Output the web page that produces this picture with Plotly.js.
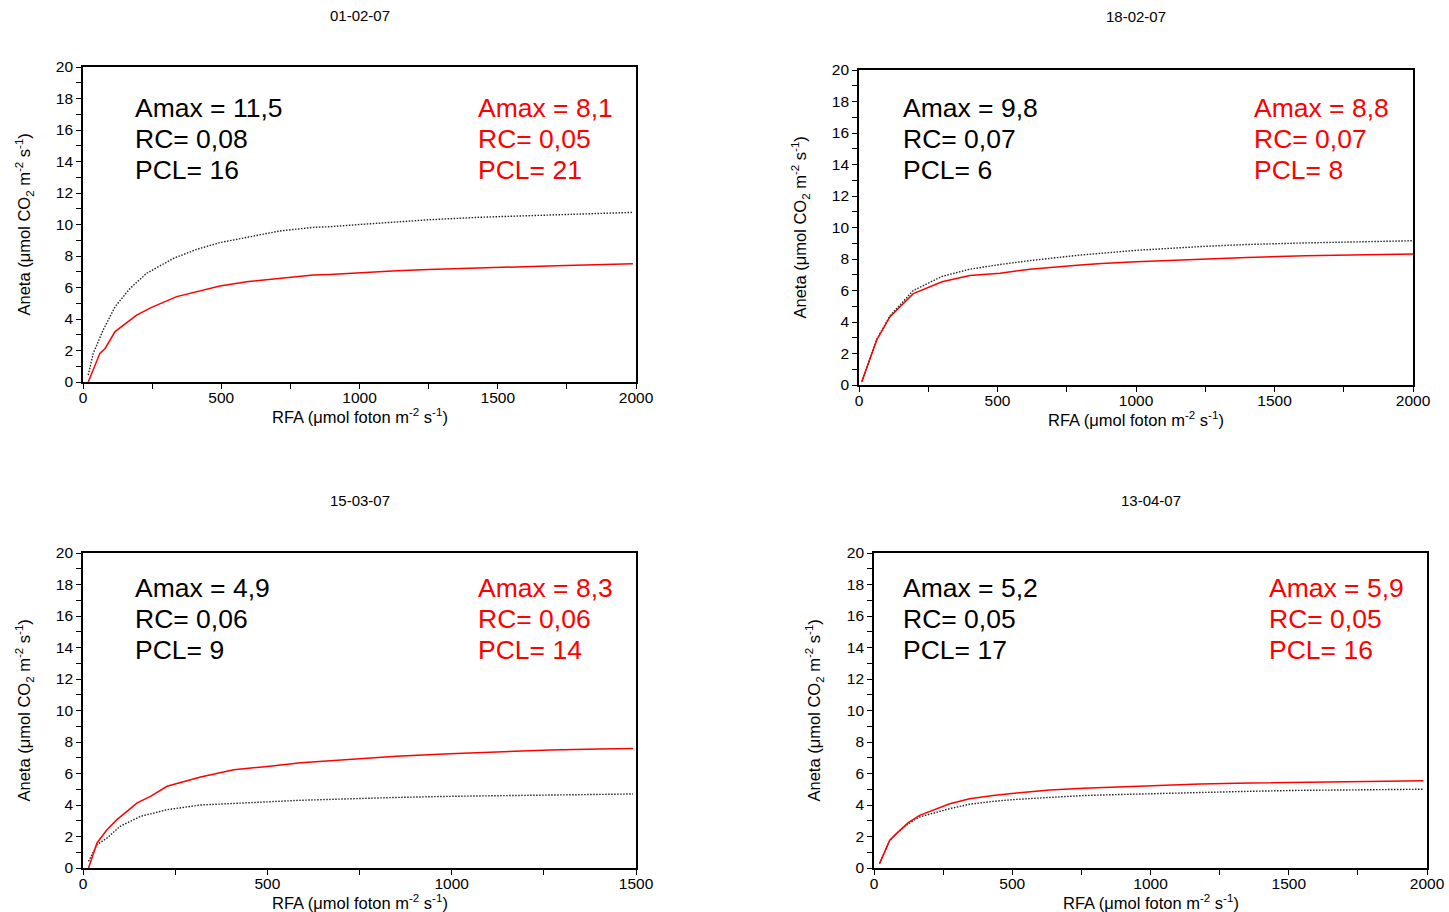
<!DOCTYPE html>
<html>
<head>
<meta charset="utf-8">
<script src="https://cdn.plot.ly/plotly-3.0.1.min.js"></script>
<style>html,body{margin:0;padding:0;background:#fff;}#chart{width:1449px;height:912px;}</style>
</head>
<body>
<div id="chart"></div>
<script>
// ---------- Data ----------
const panelTitles = ["01-02-07", "18-02-07", "15-03-07", "13-04-07"];
const xMax = [2000, 2000, 1500, 2000];

// Panel 1 (01-02-07)
const p1BlackX = [19, 37, 73, 116, 170, 230, 327, 411, 495, 592, 712, 833, 893, 1000, 1135, 1250, 1436, 1600, 1713, 1850, 1989];
const p1BlackY = [0.44, 1.82, 3.3, 4.78, 5.94, 6.9, 7.85, 8.42, 8.85, 9.2, 9.59, 9.82, 9.86, 10.0, 10.18, 10.3, 10.46, 10.55, 10.62, 10.7, 10.77];
const p1RedX = [19, 61, 80, 116, 194, 248, 339, 411, 495, 592, 712, 833, 893, 1000, 1135, 1250, 1436, 1600, 1713, 1850, 1989];
const p1RedY = [0.0, 1.82, 2.13, 3.2, 4.25, 4.74, 5.42, 5.73, 6.1, 6.37, 6.58, 6.79, 6.83, 6.95, 7.07, 7.15, 7.26, 7.33, 7.38, 7.45, 7.51];

// Panel 2 (18-02-07)
const p2BlackX = [10, 64, 112, 196, 300, 400, 509, 617, 798, 876, 1000, 1243, 1400, 1610, 1800, 2000];
const p2BlackY = [0.2, 2.9, 4.4, 6.0, 6.9, 7.35, 7.65, 7.9, 8.25, 8.37, 8.55, 8.8, 8.92, 9.02, 9.1, 9.16];
const p2RedX = [10, 64, 112, 196, 300, 400, 509, 617, 798, 876, 1000, 1243, 1400, 1610, 1800, 2000];
const p2RedY = [0.2, 2.86, 4.34, 5.8, 6.55, 6.95, 7.1, 7.35, 7.62, 7.72, 7.82, 8.0, 8.1, 8.2, 8.27, 8.32];

// Panel 3 (15-03-07)
const p3BlackX = [15, 38, 65, 101, 156, 228, 319, 409, 500, 591, 724, 850, 995, 1130, 1267, 1400, 1492];
const p3BlackY = [0.42, 1.48, 1.9, 2.65, 3.28, 3.7, 4.0, 4.12, 4.2, 4.3, 4.4, 4.48, 4.55, 4.6, 4.65, 4.68, 4.7];
const p3RedX = [15, 38, 65, 92, 147, 183, 228, 319, 409, 453, 500, 591, 724, 850, 995, 1130, 1267, 1400, 1492];
const p3RedY = [0.0, 1.59, 2.43, 3.07, 4.13, 4.55, 5.19, 5.78, 6.24, 6.32, 6.45, 6.68, 6.92, 7.1, 7.26, 7.38, 7.49, 7.55, 7.58];

// Panel 4 (13-04-07)
const p4BlackX = [20, 57, 81, 123, 165, 226, 274, 346, 431, 516, 636, 757, 878, 999, 1179, 1360, 1541, 1760, 1987];
const p4BlackY = [0.28, 1.76, 2.18, 2.81, 3.24, 3.56, 3.77, 4.05, 4.23, 4.36, 4.5, 4.6, 4.66, 4.72, 4.8, 4.87, 4.93, 4.97, 5.0];
const p4RedX = [20, 57, 81, 123, 165, 226, 274, 346, 431, 516, 636, 757, 878, 999, 1179, 1360, 1541, 1760, 1987];
const p4RedY = [0.28, 1.76, 2.18, 2.86, 3.34, 3.77, 4.08, 4.4, 4.61, 4.76, 4.95, 5.07, 5.15, 5.22, 5.33, 5.39, 5.44, 5.5, 5.54];

// Parameter text blocks
const blackLabels = [
  ["Amax = 11,5", "RC= 0,08", "PCL= 16"],
  ["Amax = 9,8", "RC= 0,07", "PCL= 6"],
  ["Amax = 4,9", "RC= 0,06", "PCL= 9"],
  ["Amax = 5,2", "RC= 0,05", "PCL= 17"]
];
const redLabels = [
  ["Amax = 8,1", "RC= 0,05", "PCL= 21"],
  ["Amax = 8,8", "RC= 0,07", "PCL= 8"],
  ["Amax = 8,3", "RC= 0,06", "PCL= 14"],
  ["Amax = 5,9", "RC= 0,05", "PCL= 16"]
];
const xTitle = "RFA (\u03bcmol foton m<sup>-2</sup> s<sup>-1</sup>)";
const yTitle = "Aneta (\u03bcmol CO<sub>2</sub> m<sup>-2</sup> s<sup>-1</sup>)";

// ---------- Layout (pixel geometry) ----------
const W = 1449, H = 912;
const boxes = [ // [left, right, top, bottom] in px
  [83, 636, 67, 382],
  [859, 1413, 70, 385],
  [83, 636, 553, 868],
  [874, 1427, 553, 868]
];
const titlePos = [[360, 15], [1136, 17], [360, 500], [1151, 500]];
const blackTextPos = [[134, 108], [902, 108], [134, 588], [902, 588]];
const redTextPos = [[477, 108], [1253, 108], [477, 588], [1268, 588]];
const yTitleX = [24, 800, 24, 814];
const lineGap = 31;

const FONT = "Liberation Sans, Arial, sans-serif";
const px2x = p => p / W;
const px2y = p => 1 - p / H;

const series = [
  [p1BlackX, p1BlackY, p1RedX, p1RedY],
  [p2BlackX, p2BlackY, p2RedX, p2RedY],
  [p3BlackX, p3BlackY, p3RedX, p3RedY],
  [p4BlackX, p4BlackY, p4RedX, p4RedY]
];

const data = [];
const layout = {
  width: W, height: H,
  margin: {l: 0, r: 0, t: 0, b: 0},
  paper_bgcolor: "#fff", plot_bgcolor: "#fff",
  showlegend: false,
  hovermode: false,
  dragmode: false,
  font: {family: FONT, color: "#000", size: 15},
  annotations: []
};

series.forEach((s, i) => {
  const n = i + 1;
  const xa = n === 1 ? "x" : "x" + n;
  const ya = n === 1 ? "y" : "y" + n;
  data.push({x: s[0], y: s[1], xaxis: xa, yaxis: ya, type: "scatter", mode: "lines",
    line: {color: "#222", width: 1.4, dash: "1.5px,1.5px"}, hoverinfo: "skip"});
  data.push({x: s[2], y: s[3], xaxis: xa, yaxis: ya, type: "scatter", mode: "lines",
    line: {color: "#ff0000", width: 1.5}, hoverinfo: "skip"});
  const b = boxes[i];
  layout["xaxis" + (n === 1 ? "" : n)] = {
    domain: [px2x(b[0]), px2x(b[1])], anchor: ya,
    range: [0, xMax[i]], tick0: 0, dtick: 500,
    showgrid: false, zeroline: false, showline: true, mirror: true,
    linecolor: "#000", linewidth: 1.6,
    ticks: "outside", ticklen: 5, tickwidth: 1, tickcolor: "#000",
    ticklabelstandoff: -4,
    tickfont: {size: 15.5, family: FONT, color: "#000"},
    minor: {dtick: 250, tick0: 0, ticks: "outside", ticklen: 5, tickwidth: 1, tickcolor: "#000", showgrid: false},
    fixedrange: true
  };
  layout["yaxis" + (n === 1 ? "" : n)] = {
    domain: [px2y(b[3]), px2y(b[2])], anchor: xa,
    range: [0, 20], tick0: 0, dtick: 2,
    showgrid: false, zeroline: false, showline: true, mirror: true,
    linecolor: "#000", linewidth: 1.6,
    ticks: "outside", ticklen: 5, tickwidth: 1, tickcolor: "#000",
    tickfont: {size: 15.5, family: FONT, color: "#000"},
    minor: {dtick: 1, tick0: 0, ticks: "outside", ticklen: 5, tickwidth: 1, tickcolor: "#000", showgrid: false},
    fixedrange: true
  };
  // subplot title
  layout.annotations.push({xref: "paper", yref: "paper", x: px2x(titlePos[i][0]), y: px2y(titlePos[i][1]),
    xanchor: "center", yanchor: "middle", text: panelTitles[i], showarrow: false,
    font: {size: 15, family: FONT, color: "#000"}});
  // x title
  layout.annotations.push({xref: "paper", yref: "paper", x: px2x((b[0] + b[1]) / 2), y: px2y(b[3] + 34),
    xanchor: "center", yanchor: "middle", text: xTitle, showarrow: false,
    font: {size: 16.5, family: FONT, color: "#000"}});
  // y title
  layout.annotations.push({xref: "paper", yref: "paper", x: px2x(yTitleX[i]), y: px2y((b[2] + b[3]) / 2),
    xanchor: "center", yanchor: "middle", text: yTitle, textangle: -90, showarrow: false,
    font: {size: 16.5, family: FONT, color: "#000"}});
  // parameter blocks
  for (let k = 0; k < 3; k++) {
    layout.annotations.push({xref: "paper", yref: "paper",
      x: px2x(blackTextPos[i][0]), y: px2y(blackTextPos[i][1] + k * lineGap),
      xanchor: "left", yanchor: "middle", text: blackLabels[i][k], showarrow: false,
      borderpad: 0, font: {size: 26.5, family: FONT, color: "#000"}});
    layout.annotations.push({xref: "paper", yref: "paper",
      x: px2x(redTextPos[i][0]), y: px2y(redTextPos[i][1] + k * lineGap),
      xanchor: "left", yanchor: "middle", text: redLabels[i][k], showarrow: false,
      borderpad: 0, font: {size: 26.5, family: FONT, color: "#ff0000"}});
  }
});

Plotly.newPlot("chart", data, layout, {displayModeBar: false, responsive: false});
</script>
</body>
</html>
